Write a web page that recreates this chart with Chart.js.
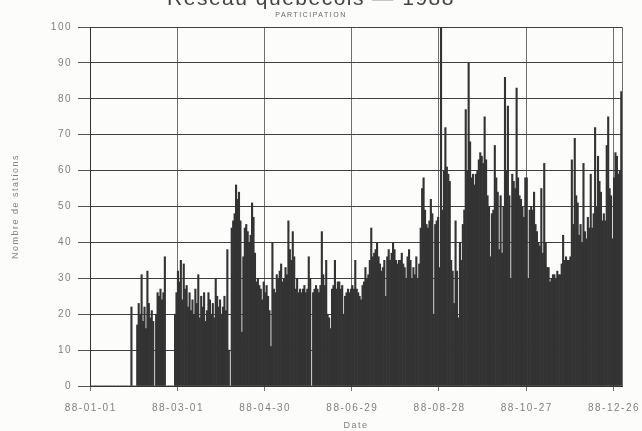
<!DOCTYPE html>
<html>
<head>
<meta charset="utf-8">
<script src="https://cdn.jsdelivr.net/npm/chart.js@4.4.1/dist/chart.umd.min.js"></script>
<style>
  html, body { margin: 0; padding: 0; background: #fcfcfb; }
  #wrap { position: relative; width: 642px; height: 431px; overflow: hidden; }
  #c { position: absolute; left: 0; top: -11px; }
</style>
</head>
<body>
<div id="wrap"><canvas id="c" width="642" height="442"></canvas></div>
<script>
// Daily number of participating stations, 1988
const janValues = [0,0,0,0,0,0,0,0,0,0, 0,0,0,0,0,0,0,0,0,0, 0,0,0,0,0,0,0,0,22,0, 0];
const febValues = [0,17,23,20,31,18,22,16,32,23, 19,21,18,0,20,26,25,27,24,26, 36,0,0,0,0,0,0,20,26];
const marValues = [32,29,35,24,34,27,28,22,26,21, 24,20,27,23,31,19,25,22,26,18, 21,26,24,20,23,19,30,25,22,24, 20];
const aprValues = [22,25,21,38,10,0,44,46,48, 56,52,54,46,15,36,44,45,43,40, 42,51,47,37,29,30,28,27,24,29, 26];
const mayValues = [28,25,21,11,40,27,26,31,30, 32,34,29,30,33,31,46,38,35,43, 36,27,30,26,27,26,27,28,26,27, 36,30];
const junValues = [0,26,27,28,27,26,28,43, 31,28,35,20,19,16,27,28,35,27, 29,29,27,28,20,25,26,27,26,27, 28,27];
const julValues = [35,27,26,25,24,28,29,33, 30,31,35,44,36,37,38,40,36,34, 32,33,35,25,36,38,35,37,40,38, 35,34,35];
const augValues = [35,37,34,33,30,36,38, 35,30,33,31,36,30,34,44,55,58, 49,45,44,46,52,48,20,45,46,47, 33,100,49,60];
const sepValues = [72,61,59,57,35,32, 23,46,32,19,40,35,45,49,77,60, 90,68,58,59,56,59,60,63,65,64, 62,75,63,53];
const octValues = [50,36,48,49,67,58, 54,38,53,37,50,86,60,78,53,30, 59,57,55,83,58,53,52,50,47,58, 58,30,49,50,49];
const novValues = [54,45,43,40,39, 55,37,62,40,33,33,29,30,31,31, 30,32,31,31,34,42,35,36,35,35, 36,63,45,69,53];
const decValues = [51,42,45,40,62, 43,41,47,44,59,44,48,72,50,64, 57,54,46,48,46,67,75,55,53,41, 58,65,64,59,60,82];

const stationValues = [].concat(janValues, febValues, marValues, aprValues, mayValues, junValues,
  julValues, augValues, sepValues, octValues, novValues, decValues);

// Tick labels shown on the date axis
const tickLabels = ['88-01-01','88-03-01','88-04-30','88-06-29','88-08-28','88-10-27','88-12-26'];
const yTicks = [0,10,20,30,40,50,60,70,80,90,100];

// Categories: every day of 1988
const categories = [];
for (let d = 0; d < stationValues.length; d++) {
  const dt = new Date(1988, 0, 1 + d);
  const mm = String(dt.getMonth() + 1).padStart(2, '0');
  const dd = String(dt.getDate()).padStart(2, '0');
  categories.push('88-' + mm + '-' + dd);
}

const isLabelled = (i) => i >= 0 && i < categories.length && tickLabels.includes(categories[i]);

const spacingPlugin = {
  id: 'spacing',
  beforeLayout(chart) { chart.ctx.letterSpacing = '1.5px'; },
  beforeDraw(chart) { chart.ctx.letterSpacing = '1.5px'; }
};

const tickFont = { family: 'Liberation Sans, Arial, sans-serif', size: 10 };

new Chart(document.getElementById('c'), {
  type: 'bar',
  data: {
    labels: categories,
    datasets: [{
      data: stationValues,
      backgroundColor: '#333333',
      borderWidth: 0,
      barPercentage: 1.0,
      categoryPercentage: 1.0
    }]
  },
  plugins: [spacingPlugin],
  options: {
    responsive: false,
    animation: false,
    layout: { padding: { left: 0, right: 20, top: 0, bottom: 0 } },
    plugins: {
      legend: { display: false },
      tooltip: { enabled: false },
      title: {
        display: true,
        text: 'Réseau québécois — 1988',
        color: '#444',
        font: { family: 'Liberation Sans, Arial, sans-serif', size: 21, weight: 'normal', lineHeight: 1.0 },
        padding: { top: 0, bottom: 0 }
      },
      subtitle: {
        display: true,
        text: 'PARTICIPATION',
        color: '#666',
        font: { family: 'Liberation Sans, Arial, sans-serif', size: 7 },
        padding: { top: 1, bottom: 7.6 }
      }
    },
    scales: {
      x: {
        type: 'category',
        grid: {
          offset: true,
          color: (c) => (c.type !== 'tick' || isLabelled(c.index)) ? '#707070' : 'rgba(0,0,0,0)',
          tickColor: (c) => (c.type === 'tick' && isLabelled(c.index)) ? '#707070' : 'rgba(0,0,0,0)',
          tickLength: 5,
          lineWidth: 1
        },
        border: { display: true, color: '#333', width: 1 },
        ticks: {
          autoSkip: false,
          maxRotation: 0,
          minRotation: 0,
          padding: 11,
          color: '#808080',
          font: tickFont,
          callback: function(value, index) { return isLabelled(index) ? categories[index] : ''; }
        },
        title: {
          display: true,
          text: 'Date',
          color: '#808080',
          font: { family: 'Liberation Sans, Arial, sans-serif', size: 9 },
          padding: { top: 0, bottom: 0 }
        },
        afterFit: (scale) => { scale.height = 45; }
      },
      y: {
        min: 0,
        max: 100,
        afterBuildTicks: (scale) => { scale.ticks = yTicks.map(v => ({ value: v })); },
        grid: {
          color: '#404040',
          tickColor: '#555',
          tickLength: 12,
          lineWidth: 1
        },
        border: { display: true, color: '#333', width: 1 },
        ticks: {
          padding: 6,
          color: '#808080',
          font: tickFont
        },
        title: {
          display: true,
          text: 'Nombre de stations',
          color: '#808080',
          font: { family: 'Liberation Sans, Arial, sans-serif', size: 9 },
          padding: { top: 10, bottom: 0 }
        },
        afterFit: (scale) => { scale.width = 90; }
      }
    }
  }
});
</script>
</body>
</html>
